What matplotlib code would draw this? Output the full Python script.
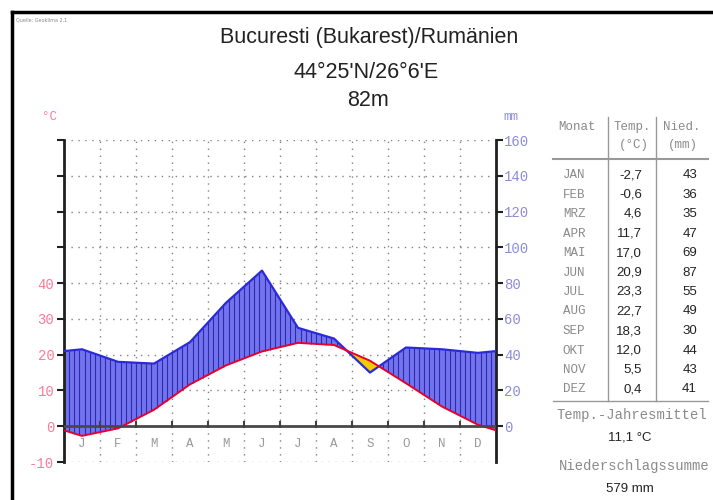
import numpy as np
import matplotlib.pyplot as plt
from matplotlib.lines import Line2D

# Klimadaten Bucuresti
months = ["J", "F", "M", "A", "M", "J", "J", "A", "S", "O", "N", "D"]
month_names = ["JAN", "FEB", "MRZ", "APR", "MAI", "JUN",
               "JUL", "AUG", "SEP", "OKT", "NOV", "DEZ"]
temp = [-2.7, -0.6, 4.6, 11.7, 17.0, 20.9, 23.3, 22.7, 18.3, 12.0, 5.5, 0.4]
prec = [43, 36, 35, 47, 69, 87, 55, 49, 30, 44, 43, 41]

W, H = 713, 500


def fx(px):
    return px / W


def fy(py):
    return 1 - py / H


fig = plt.figure(figsize=(W / 100, H / 100), dpi=100)
ax = fig.add_axes([fx(64), fy(462), 432 / W, 322 / H])

# curve points: month centres plus edges (mean of Dec/Jan)
xp = np.concatenate([[0], np.arange(12) + 0.5, [12]])
tp = np.concatenate([[(temp[0] + temp[-1]) / 2], temp, [(temp[0] + temp[-1]) / 2]])
pmm = np.concatenate([[(prec[0] + prec[-1]) / 2], prec, [(prec[0] + prec[-1]) / 2]])
pp = pmm / 2.0  # 10 degC = 20 mm

xd = np.linspace(0, 12, 1200)
td = np.interp(xd, xp, tp)
pd_ = np.interp(xd, xp, pp)

# grid
for y in range(-10, 81, 10):
    if y != 0:
        ax.axhline(y, color="#808080", ls=(0, (1, 4)), lw=1, zorder=1)
for x in range(1, 12):
    ax.axvline(x, color="#808080", ls=(0, (1, 4)), lw=1, zorder=1)

# humid / arid areas
ax.fill_between(xd, td, pd_, where=pd_ >= td, interpolate=True,
                color="#7373f0", lw=0, zorder=2)
ax.fill_between(xd, td, pd_, where=pd_ < td, interpolate=True,
                color="#f2cc00", lw=0, zorder=2)
xh = np.arange(0, 12.001, 1 / 7)
th = np.interp(xh, xp, tp)
ph = np.interp(xh, xp, pp)
m = ph > th
ax.vlines(xh[m], th[m], ph[m], color="#2c2ca8", lw=0.8, zorder=2.5)

ax.plot(xp, pp, color="#2a2ad8", lw=1.6, zorder=3)
ax.plot(xp, tp, color="#e8002c", lw=1.4, zorder=3)

# zero line with month ticks
ax.axhline(0, color="#484848", lw=2, zorder=3)
ax.vlines(range(1, 12), -0.4, 1.4, color="#404040", lw=1.5, zorder=3)

for i, mo in enumerate(months):
    ax.text(i + 0.5, -5, mo, ha="center", va="center", color="#999999",
            family="Liberation Mono", fontsize=9)

ax.set_xlim(0, 12)
ax.set_ylim(-10, 80)
ax.set_xticks([])
for s in ["top", "bottom"]:
    ax.spines[s].set_visible(False)
for s in ["left", "right"]:
    ax.spines[s].set_linewidth(2)
    ax.spines[s].set_color("#202020")

ax.set_yticks(range(-10, 81, 10))
ax.set_yticklabels([str(v) if v <= 40 else "" for v in range(-10, 81, 10)],
                   family="Liberation Mono", fontsize=10, color="#ff7a98")
ax.tick_params(axis="y", direction="out", length=5, width=1.5, color="#202020", pad=2)

ax2 = ax.twinx()
ax2.set_ylim(-20, 160)
ax2.set_yticks(range(0, 161, 20))
ax2.set_yticklabels([str(v) for v in range(0, 161, 20)],
                    family="Liberation Mono", fontsize=10, color="#8c8cd8")
ax2.tick_params(axis="y", direction="out", length=5, width=1.5, color="#202020", pad=1)
for s in ["top", "bottom", "left", "right"]:
    ax2.spines[s].set_visible(False)

fig.text(fx(50), fy(117), "°C", color="#ff7a98", ha="center", va="center",
         family="Liberation Mono", fontsize=9)
fig.text(fx(511), fy(117), "mm", color="#8c8cd8", ha="center", va="center",
         family="Liberation Mono", fontsize=9)

# titles
fig.text(fx(369), fy(38), "Bucuresti (Bukarest)/Rumänien", ha="center", va="center",
         family="Liberation Sans", fontsize=15.5, color="#222222")
fig.text(fx(366), fy(72), "44°25'N/26°6'E", ha="center", va="center",
         family="Liberation Sans", fontsize=15.5, color="#222222")
fig.text(fx(368), fy(100), "82m", ha="center", va="center",
         family="Liberation Sans", fontsize=15.5, color="#222222")

# frame and source
fig.add_artist(Line2D([fx(12), fx(12)], [0, fy(12)], transform=fig.transFigure,
                      color="black", lw=2.5))
fig.add_artist(Line2D([fx(12), 1], [fy(12), fy(12)], transform=fig.transFigure,
                      color="black", lw=2.5))
fig.text(fx(16), fy(20), "Quelle: Geoklima 2.1", fontsize=3.5, color="#888888",
         va="center")

# table
mono = dict(family="Liberation Mono", color="#8a8a8a", fontsize=9)
sans = dict(family="Liberation Sans", color="#222222", fontsize=9.5)
fig.text(fx(577), fy(127), "Monat", ha="center", va="center", **mono)
fig.text(fx(632), fy(127), "Temp.", ha="center", va="center", **mono)
fig.text(fx(634), fy(145), "(°C)", ha="center", va="center", **mono)
fig.text(fx(682), fy(127), "Nied.", ha="center", va="center", **mono)
fig.text(fx(683), fy(145), "(mm)", ha="center", va="center", **mono)

fig.add_artist(Line2D([fx(553), fx(708)], [fy(159), fy(159)], transform=fig.transFigure,
                      color="#999999", lw=1.5))
fig.add_artist(Line2D([fx(553), fx(708)], [fy(401), fy(401)], transform=fig.transFigure,
                      color="#999999", lw=1))
for xl in (608, 656):
    fig.add_artist(Line2D([fx(xl), fx(xl)], [fy(117), fy(401)], transform=fig.transFigure,
                          color="#999999", lw=1))

row0, step = 175, 19.5
for i in range(12):
    y = fy(row0 + i * step)
    fig.text(fx(574), y, month_names[i], ha="center", va="center", **mono)
    fig.text(fx(642), y, f"{temp[i]:.1f}".replace(".", ","), ha="right", va="center", **sans)
    fig.text(fx(697), y, str(prec[i]), ha="right", va="center", **sans)

mean_t = sum(temp) / len(temp)
fig.text(fx(632), fy(415), "Temp.-Jahresmittel", ha="center", va="center",
         family="Liberation Mono", color="#8a8a8a", fontsize=10)
fig.text(fx(630), fy(437), f"{mean_t:.1f}".replace(".", ",") + " °C", ha="center",
         va="center", **sans)
fig.text(fx(634), fy(466), "Niederschlagssumme", ha="center", va="center",
         family="Liberation Mono", color="#8a8a8a", fontsize=10)
fig.text(fx(630), fy(489), f"{sum(prec)} mm", ha="center", va="center", **sans)

fig.savefig("out.png", dpi=100)
